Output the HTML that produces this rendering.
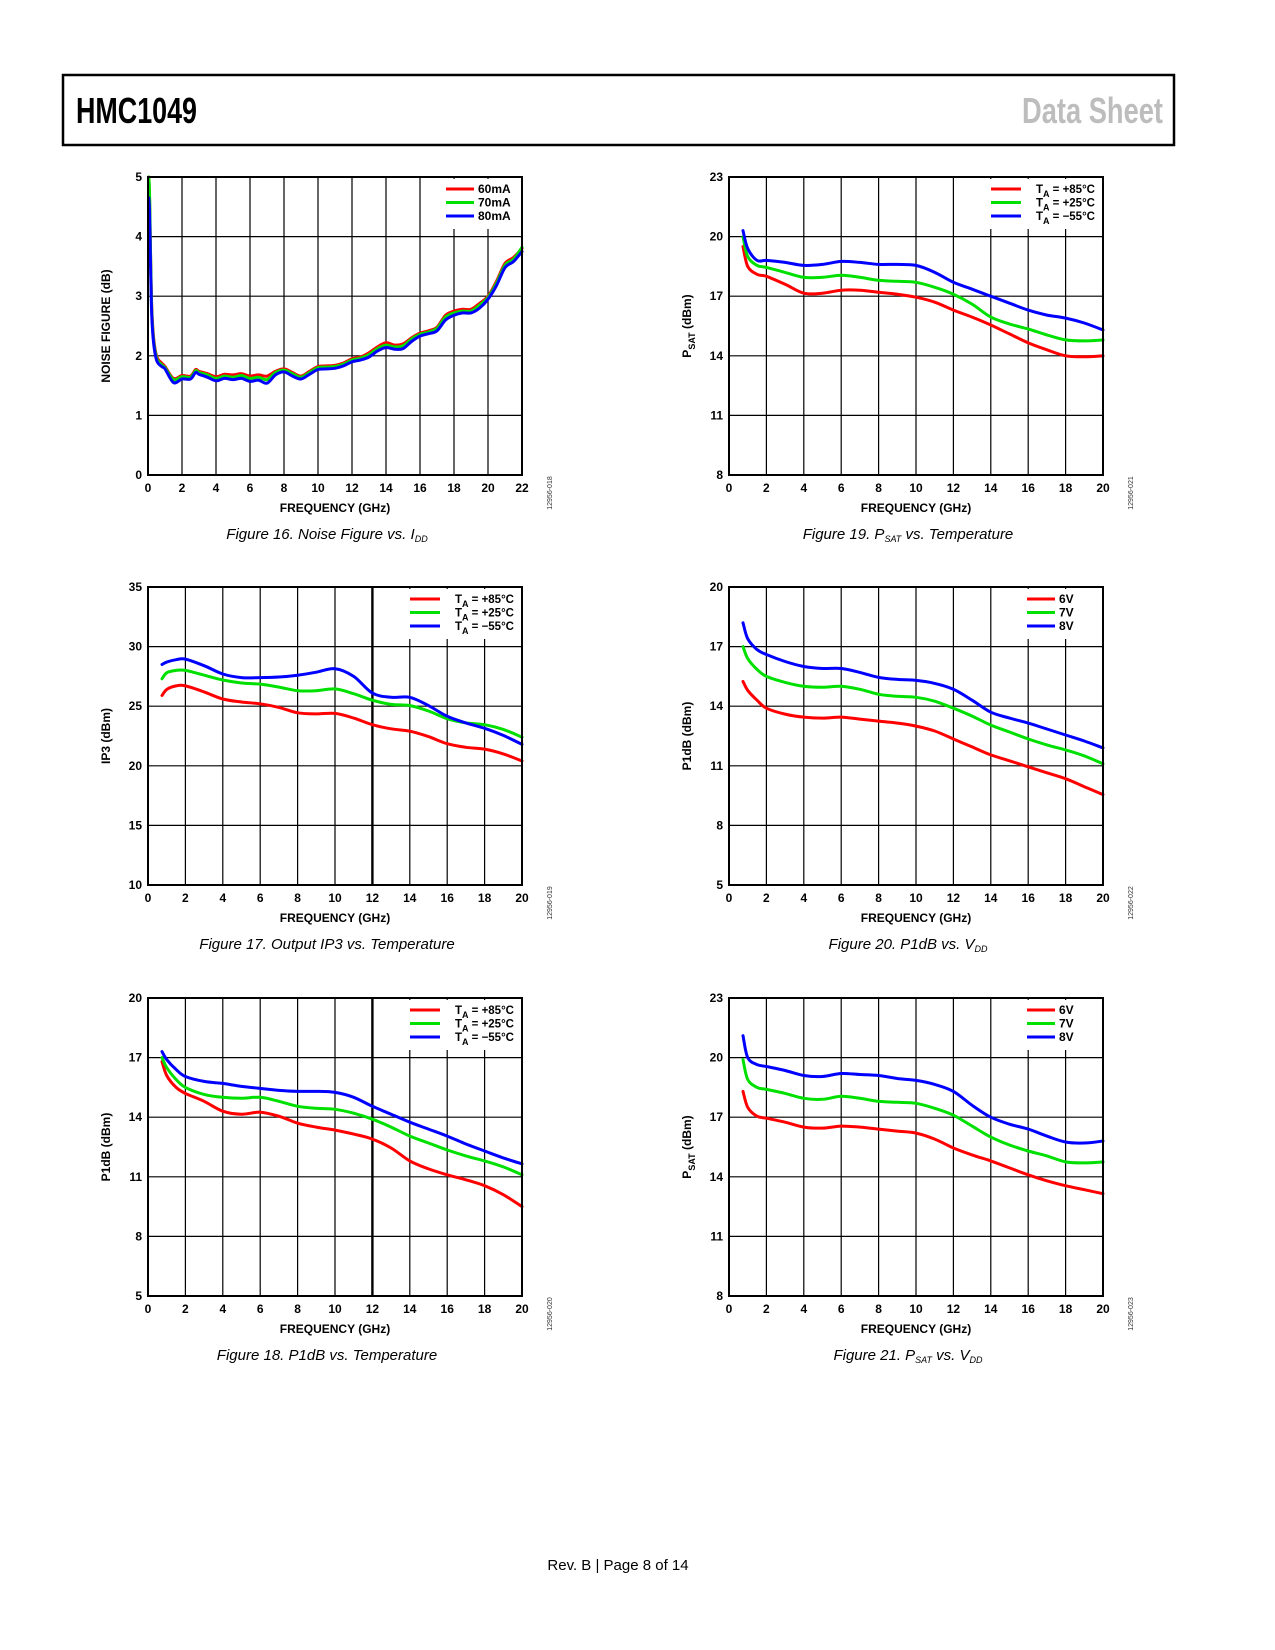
<!DOCTYPE html>
<html><head><meta charset="utf-8"><style>
html,body{margin:0;padding:0;background:#fff;}
svg{display:block;}
text{font-family:"Liberation Sans",sans-serif;}
</style></head><body>
<svg id="page" width="1275" height="1650" viewBox="0 0 1275 1650" xmlns="http://www.w3.org/2000/svg">
<rect x="63" y="75" width="1111" height="70" fill="none" stroke="#000" stroke-width="2.5"/>
<text x="76" y="123" font-size="36" font-weight="bold" textLength="121" lengthAdjust="spacingAndGlyphs">HMC1049</text>
<text x="1022" y="123" font-size="36" font-weight="bold" fill="#bdbdbd" textLength="141" lengthAdjust="spacingAndGlyphs">Data Sheet</text>
<text x="618" y="1570" font-size="15" text-anchor="middle">Rev. B | Page 8 of 14</text>
</svg>
<script>
// ---- Figure 16: Noise figure vs IDD ----
const nfFreq = [0.05,0.1,0.2,0.3,0.5,0.8,1.0,1.5,2,2.5,2.8,3,3.5,4,4.5,5,5.5,6,6.5,7,7.5,8,8.5,9,9.5,10,10.5,11,11.5,12,12.5,13,13.5,14,14.5,15,15.5,16,16.5,17,17.5,18,18.5,19,19.5,20,20.5,21,21.5,22];
const nf60 = [5.0,4.5,3.0,2.4,2.0,1.88,1.82,1.62,1.67,1.66,1.77,1.74,1.70,1.65,1.69,1.68,1.70,1.66,1.68,1.66,1.74,1.78,1.72,1.66,1.74,1.82,1.83,1.84,1.88,1.95,1.98,2.05,2.15,2.22,2.18,2.20,2.30,2.38,2.42,2.48,2.68,2.75,2.78,2.78,2.88,3.0,3.25,3.55,3.65,3.8];
const nf70 = [5.0,4.6,2.95,2.35,1.97,1.85,1.80,1.60,1.65,1.64,1.75,1.72,1.68,1.62,1.66,1.64,1.67,1.62,1.64,1.60,1.72,1.76,1.70,1.64,1.72,1.80,1.81,1.82,1.86,1.93,1.96,2.02,2.12,2.18,2.15,2.17,2.28,2.36,2.40,2.46,2.65,2.72,2.75,2.75,2.85,2.98,3.22,3.52,3.62,3.82];
const nf80 = [4.65,4.3,2.85,2.3,1.93,1.82,1.78,1.55,1.61,1.61,1.72,1.69,1.64,1.58,1.62,1.60,1.62,1.57,1.59,1.54,1.68,1.73,1.66,1.61,1.69,1.77,1.78,1.79,1.83,1.90,1.93,1.98,2.08,2.14,2.11,2.12,2.24,2.33,2.37,2.42,2.60,2.68,2.72,2.72,2.80,2.95,3.18,3.48,3.58,3.75];
const nfTicksX = [0,2,4,6,8,10,12,14,16,18,20,22];
const nfTicksY = [0,1,2,3,4,5];
// ---- common frequency axis for other figures ----
const freq = [0.75,1,1.5,2,3,4,5,6,7,8,9,10,11,12,13,14,15,16,17,18,19,20];
const ticks20 = [0,2,4,6,8,10,12,14,16,18,20];
// Figure 19 PSAT vs temperature
const psatT85 = [19.5,18.5,18.1,18.0,17.6,17.15,17.15,17.3,17.3,17.2,17.1,16.95,16.7,16.3,15.95,15.55,15.1,14.65,14.3,14.0,13.95,14.0];
const psatT25 = [20.0,19.0,18.55,18.45,18.2,17.95,17.95,18.05,17.95,17.8,17.75,17.7,17.45,17.1,16.6,15.95,15.6,15.35,15.05,14.8,14.75,14.8];
const psatTm55 = [20.3,19.4,18.8,18.8,18.7,18.55,18.6,18.75,18.7,18.6,18.6,18.55,18.2,17.7,17.35,17.0,16.65,16.3,16.05,15.9,15.65,15.3];
const psatTicksY = [8,11,14,17,20,23];
// Figure 17 IP3 vs temperature
const ip3T85 = [25.9,26.4,26.7,26.7,26.2,25.6,25.35,25.2,24.9,24.45,24.35,24.4,24.0,23.45,23.1,22.9,22.45,21.85,21.55,21.4,21.0,20.4];
const ip3T25 = [27.3,27.8,28.0,28.0,27.6,27.2,26.95,26.85,26.6,26.3,26.3,26.45,26.05,25.5,25.15,25.05,24.6,23.95,23.6,23.45,23.05,22.4];
const ip3Tm55 = [28.5,28.7,28.9,28.95,28.4,27.7,27.4,27.4,27.45,27.6,27.85,28.15,27.5,26.1,25.75,25.75,25.05,24.15,23.6,23.15,22.55,21.8];
const ip3TicksY = [10,15,20,25,30,35];
// Figure 20 P1dB vs VDD
const p1dbV6 = [15.25,14.8,14.3,13.9,13.6,13.45,13.4,13.45,13.35,13.25,13.15,13.0,12.75,12.35,11.95,11.55,11.25,10.95,10.65,10.35,9.95,9.55];
const p1dbV7 = [17.0,16.4,15.85,15.5,15.2,15.0,14.95,15.0,14.85,14.6,14.5,14.45,14.25,13.9,13.5,13.05,12.7,12.35,12.05,11.8,11.5,11.1];
const p1dbV8 = [18.2,17.4,16.85,16.6,16.25,16.0,15.9,15.9,15.7,15.45,15.35,15.3,15.15,14.85,14.3,13.7,13.4,13.15,12.85,12.55,12.25,11.9];
const p1dbTicksY = [5,8,11,14,17,20];
// Figure 18 P1dB vs temperature
const p1dbT85 = [16.8,16.1,15.5,15.2,14.8,14.3,14.15,14.25,14.05,13.7,13.5,13.35,13.15,12.9,12.45,11.8,11.4,11.1,10.85,10.55,10.1,9.5];
const p1dbT25 = [17.0,16.5,15.9,15.5,15.15,15.0,14.95,15.0,14.8,14.55,14.45,14.4,14.2,13.9,13.5,13.05,12.7,12.35,12.05,11.8,11.5,11.1];
const p1dbTm55 = [17.3,16.9,16.4,16.05,15.8,15.7,15.55,15.45,15.35,15.3,15.3,15.25,15.0,14.55,14.15,13.75,13.4,13.05,12.65,12.3,11.95,11.65];
// Figure 21 PSAT vs VDD
const psatV6 = [18.3,17.5,17.05,16.95,16.75,16.5,16.45,16.55,16.5,16.4,16.3,16.2,15.9,15.45,15.1,14.8,14.45,14.1,13.8,13.55,13.35,13.15];
const psatV7 = [19.9,18.9,18.5,18.4,18.2,17.95,17.9,18.05,17.95,17.8,17.75,17.7,17.45,17.1,16.55,16.0,15.6,15.3,15.05,14.75,14.7,14.75];
const psatV8 = [21.1,20.0,19.65,19.55,19.35,19.1,19.05,19.2,19.15,19.1,18.95,18.85,18.65,18.3,17.6,17.0,16.65,16.4,16.05,15.75,15.7,15.8];

const NS = "http://www.w3.org/2000/svg";
const page = document.getElementById('page');
function mk(tag, attrs, parent){
  const e = document.createElementNS(NS, tag);
  for (const k in attrs) e.setAttribute(k, attrs[k]);
  (parent||page).appendChild(e);
  return e;
}
function smoothPath(pts){
  let d = 'M' + pts[0][0].toFixed(1) + ',' + pts[0][1].toFixed(1);
  for (let i=0;i<pts.length-1;i++){
    const p0 = pts[Math.max(0,i-1)], p1 = pts[i], p2 = pts[i+1], p3 = pts[Math.min(pts.length-1,i+2)];
    const c1x = p1[0]+(p2[0]-p0[0])/6, c1y = p1[1]+(p2[1]-p0[1])/6;
    const c2x = p2[0]-(p3[0]-p1[0])/6, c2y = p2[1]-(p3[1]-p1[1])/6;
    d += ' C'+c1x.toFixed(1)+','+c1y.toFixed(1)+' '+c2x.toFixed(1)+','+c2y.toFixed(1)+' '+p2[0].toFixed(1)+','+p2[1].toFixed(1);
  }
  return d;
}
function chart(cfg){
  const L=cfg.x, T=cfg.y, W=374, H=298;
  const g = mk('g', {});
  
  
  const xmin=cfg.xt[0], xmax=cfg.xt[cfg.xt.length-1], ymin=cfg.yt[0], ymax=cfg.yt[cfg.yt.length-1];
  const sx = v => L + (v-xmin)/(xmax-xmin)*W;
  const sy = v => T + H - (v-ymin)/(ymax-ymin)*H;
  const isTemp = cfg.labels[0].indexOf('T|')===0;
  cfg.xt.forEach(t=>{
    const gl = mk('line',{x1:sx(t),x2:sx(t),y1:T,y2:T+H,stroke:'#000','stroke-width':(cfg.heavy===t?2.4:1.2)},g);
    
    
    const tl = mk('text',{x:sx(t),y:T+H+17,'font-size':12,'font-weight':'bold','text-anchor':'middle'},g);
    tl.textContent = t;
    
    
  });
  cfg.yt.forEach(t=>{
    const gl = mk('line',{x1:L,x2:L+W,y1:sy(t),y2:sy(t),stroke:'#000','stroke-width':1.2},g);
    
    
    const tl = mk('text',{x:L-6,y:sy(t)+4,'font-size':12,'font-weight':'bold','text-anchor':'end'},g);
    tl.textContent = t;
    
    
  });
  const lbw = isTemp ? 118 : 94;
  const lb = mk('rect',{x:L+W-lbw-2,y:T+2,width:lbw,height:50,fill:'#fff'},g);
  
  
  const cols=['#ff0000','#00e000','#0000ff'];
  cfg.series.forEach((s,i)=>{
    const pts = cfg.xs.map((xv,j)=>[sx(xv), sy(s[j])]);
    const p = mk('path',{d:smoothPath(pts),fill:'none',stroke:cols[i],'stroke-width':cfg.lw||3,'stroke-linejoin':'round','stroke-linecap':'round'},g);
    
    
    const ly = T+12+i*13.5;
    const lx1 = isTemp ? L+W-112 : L+W-76, lx2 = isTemp ? L+W-82 : L+W-48;
    const ll = mk('line',{x1:lx1,x2:lx2,y1:ly,y2:ly,stroke:cols[i],'stroke-width':3},g);
    
    
    const lt = mk('text', isTemp ? {x:L+W-8,y:ly+4,'font-size':11.5,'font-weight':'bold','text-anchor':'end'} : {x:L+W-44,y:ly+4,'font-size':12,'font-weight':'bold'},g);
    
    
    const lab = cfg.labels[i];
    if (isTemp){
      lt.appendChild(document.createTextNode('T'));
      const sub = mk('tspan',{dy:4,'font-size':9},lt); sub.textContent='A';
      const rest = mk('tspan',{dy:-4},lt); rest.textContent=lab.slice(2);
    } else lt.textContent = lab;
  });
  const b = mk('rect',{x:L,y:T,width:W,height:H,fill:'none',stroke:'#000','stroke-width':2},g);
  
  
  const xt = mk('text',{x:L+W/2,y:T+H+37,'font-size':12,'font-weight':'bold','text-anchor':'middle'},g);
  xt.textContent='FREQUENCY (GHz)';
  
  
  const yx = L-38, yc = T+H/2;
  const yt = mk('text',{x:yx,y:yc,'font-size':12,'font-weight':'bold','text-anchor':'middle',transform:'rotate(-90 '+yx+' '+yc+')'},g);
  
  
  if (cfg.ytitle==='PSAT'){
    yt.appendChild(document.createTextNode('P'));
    const s1=mk('tspan',{dy:4,'font-size':9},yt); s1.textContent='SAT';
    const s2=mk('tspan',{dy:-4},yt); s2.textContent=' (dBm)';
  } else yt.textContent = cfg.ytitle;
  const cx = L+W+30, cy = T+H+18;
  const code = mk('text',{x:cx,y:cy,'font-size':7,fill:'#333','text-anchor':'middle',transform:'rotate(-90 '+cx+' '+cy+')'},g);
  code.textContent = cfg.code;
  
  
  const cap = mk('text',{x:L+W/2-8,y:T+H+64,'font-size':15,'font-style':'italic','text-anchor':'middle'},g);
  
  
  cfg.caption.forEach(part=>{
    const ts = mk('tspan', part.sub?{'font-size':9,dy:3}:{dy:part.up?-3:0}, cap);
    ts.textContent = part.t;
  });
}
const tempLabels = ['T| = +85°C','T| = +25°C','T| = −55°C'];
const vLabels = ['6V','7V','8V'];
chart({name:'figure-16-noise-figure',x:148,y:177,xs:nfFreq,series:[nf60,nf70,nf80],xt:nfTicksX,yt:nfTicksY,labels:['60mA','70mA','80mA'],ytitle:'NOISE FIGURE (dB)',code:'12956-018',lw:3,
  caption:[{t:'Figure 16. Noise Figure vs. I'},{t:'DD',sub:true}]});
chart({name:'figure-19-psat-vs-temperature',x:729,y:177,xs:freq,series:[psatT85,psatT25,psatTm55],xt:ticks20,yt:psatTicksY,labels:tempLabels,ytitle:'PSAT',code:'12956-021',
  caption:[{t:'Figure 19. P'},{t:'SAT',sub:true},{t:' vs. Temperature',up:true}]});
chart({name:'figure-17-ip3-vs-temperature',x:148,y:587,xs:freq,series:[ip3T85,ip3T25,ip3Tm55],xt:ticks20,yt:ip3TicksY,labels:tempLabels,ytitle:'IP3 (dBm)',code:'12956-019',heavy:12,
  caption:[{t:'Figure 17. Output IP3 vs. Temperature'}]});
chart({name:'figure-20-p1db-vs-vdd',x:729,y:587,xs:freq,series:[p1dbV6,p1dbV7,p1dbV8],xt:ticks20,yt:p1dbTicksY,labels:vLabels,ytitle:'P1dB (dBm)',code:'12956-022',
  caption:[{t:'Figure 20. P1dB vs. V'},{t:'DD',sub:true}]});
chart({name:'figure-18-p1db-vs-temperature',x:148,y:998,xs:freq,series:[p1dbT85,p1dbT25,p1dbTm55],xt:ticks20,yt:p1dbTicksY,labels:tempLabels,ytitle:'P1dB (dBm)',code:'12956-020',heavy:12,
  caption:[{t:'Figure 18. P1dB vs. Temperature'}]});
chart({name:'figure-21-psat-vs-vdd',x:729,y:998,xs:freq,series:[psatV6,psatV7,psatV8],xt:ticks20,yt:psatTicksY,labels:vLabels,ytitle:'PSAT',code:'12956-023',
  caption:[{t:'Figure 21. P'},{t:'SAT',sub:true},{t:' vs. V',up:true},{t:'DD',sub:true}]});
</script>
</body></html>
